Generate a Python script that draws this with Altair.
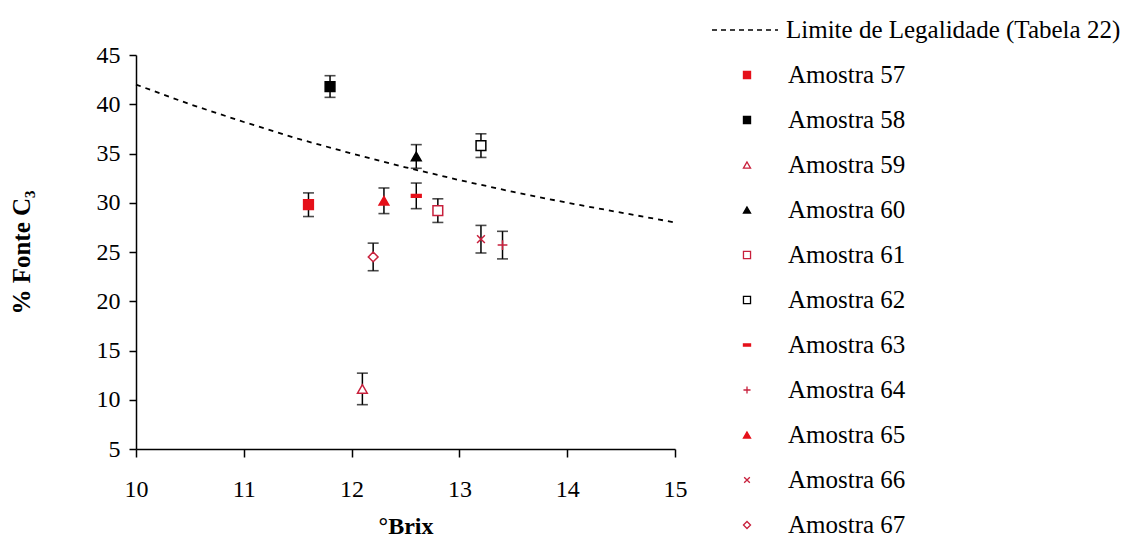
import altair as alt
import pandas as pd

# ---- data ----
samples = ["Amostra 57", "Amostra 58", "Amostra 59", "Amostra 60", "Amostra 61",
           "Amostra 62", "Amostra 63", "Amostra 64", "Amostra 65", "Amostra 66", "Amostra 67"]
brix = [11.6, 11.8, 12.1, 12.6, 12.8, 13.2, 12.6, 13.4, 12.3, 13.2, 12.2]
fonte_c3 = [29.8, 41.8, 11.1, 34.7, 29.2, 35.8, 30.7, 25.7, 30.2, 26.3, 24.5]
erro = [1.2, 1.1, 1.6, 1.2, 1.2, 1.2, 1.3, 1.4, 1.3, 1.4, 1.4]

limite_brix = [10, 10.5, 11, 11.5, 12, 12.5, 13, 13.5, 14, 14.5, 15]
limite_c3 = [42.0, 40.0, 38.2, 36.5, 35.0, 33.6, 32.3, 31.1, 30.0, 29.0, 28.0]
limite_label = "Limite de Legalidade (Tabela 22)"

x_ticks = [10, 11, 12, 13, 14, 15]
y_ticks = [5, 10, 15, 20, 25, 30, 35, 40, 45]

# ---- marker styles ----
RED = "#e5101a"
DRED = "#c8203c"
shapes = ["square", "square", "triangle-up", "triangle-up", "square", "square",
          "M-1,-0.3L1,-0.3L1,0.3L-1,0.3Z", "M-1,0L1,0M0,-1L0,1", "triangle-up",
          "M-0.8,-0.8L0.8,0.8M-0.8,0.8L0.8,-0.8", "diamond"]
fills = [RED, "black", "white", "black", "white", "white", RED, "white", RED, "white", "white"]
strokes = [RED, "black", DRED, "black", DRED, "black", RED, DRED, RED, DRED, DRED]

FONT = "Liberation Serif"

df = pd.DataFrame({"amostra": samples, "brix": brix, "c3": fonte_c3, "erro": erro})
df["lo"] = df["c3"] - df["erro"]
df["hi"] = df["c3"] + df["erro"]
df["row"] = list(range(1, len(samples) + 1))

lim = pd.DataFrame({"brix": limite_brix, "c3": limite_c3})

xs = alt.Scale(domain=[10, 15], nice=False, zero=False)
ys = alt.Scale(domain=[5, 45], nice=False, zero=False)

shape_enc = alt.Shape("amostra:N", scale=alt.Scale(domain=samples, range=shapes), legend=None)
fill_enc = alt.Fill("amostra:N", scale=alt.Scale(domain=samples, range=fills), legend=None)
stroke_enc = alt.Stroke("amostra:N", scale=alt.Scale(domain=samples, range=strokes), legend=None)

x_enc = alt.X("brix:Q", scale=xs,
              axis=alt.Axis(values=x_ticks, title="°Brix", format="d"))
y_enc = alt.Y("c3:Q", scale=ys,
              axis=alt.Axis(values=y_ticks, title="% Fonte C₃", format="d"))

base = alt.Chart(df)

line = alt.Chart(lim).mark_line(color="black", strokeDash=[5, 5], strokeWidth=1.8).encode(
    x=x_enc, y=y_enc)

bars = base.mark_rule(color="black", strokeWidth=1.5).encode(
    x=alt.X("brix:Q", scale=xs), y=alt.Y("lo:Q", scale=ys), y2="hi:Q")
cap_lo = base.mark_tick(orient="horizontal", color="black", size=11, thickness=1.6).encode(
    x=alt.X("brix:Q", scale=xs), y=alt.Y("lo:Q", scale=ys))
cap_hi = base.mark_tick(orient="horizontal", color="black", size=11, thickness=1.6).encode(
    x=alt.X("brix:Q", scale=xs), y=alt.Y("hi:Q", scale=ys))

pts = base.mark_point(size=95, strokeWidth=1.5, opacity=1).encode(
    x=alt.X("brix:Q", scale=xs), y=alt.Y("c3:Q", scale=ys),
    shape=shape_enc, fill=fill_enc, stroke=stroke_enc)

plot = alt.layer(line, bars, cap_lo, cap_hi, pts)

# ---- legend drawn as its own layer (rows on an independent scale) ----
leg_scale = alt.Scale(domain=[0, 11], range=[-25, 470])
leg_y = alt.Y("row:Q", scale=leg_scale, axis=None)

leg_pts = base.mark_point(size=50, strokeWidth=1.3, opacity=1).encode(
    x=alt.value(611), y=leg_y, shape=shape_enc, fill=fill_enc, stroke=stroke_enc)
leg_txt = base.mark_text(align="left", baseline="middle", font=FONT, fontSize=25,
                         color="black").encode(
    x=alt.value(652), y=leg_y, text="amostra:N")

lim_leg = pd.DataFrame({"row": [0], "label": [limite_label]})
leg_line = alt.Chart(lim_leg).mark_rule(color="black", strokeDash=[5, 4], strokeWidth=1.5).encode(
    x=alt.value(576), x2=alt.value(642), y=leg_y)
leg_line_txt = alt.Chart(lim_leg).mark_text(align="left", baseline="middle", font=FONT,
                                            fontSize=25, color="black").encode(
    x=alt.value(650), y=leg_y, text="label:N")

legend = alt.layer(leg_line, leg_line_txt, leg_pts, leg_txt)

chart = alt.layer(plot, legend).resolve_scale(y="independent").properties(
    width=539, height=394,
    autosize=alt.AutoSizeParams(type="none"),
    padding={"left": 128, "top": 47, "right": 460, "bottom": 93},
).configure_view(stroke=None).configure_axis(
    grid=False, domainColor="black", domainWidth=1.5, tickColor="black", tickWidth=1.5,
    labelFont=FONT, labelFontSize=24, labelColor="black", labelFlush=False,
    titleFont=FONT, titleFontSize=25, titleFontWeight="bold", titleColor="black",
).configure_axisX(
    tickSize=8, labelPadding=20, titlePadding=13, titleFontSize=24,
).configure_axisY(
    tickSize=7, labelPadding=9, titlePadding=62,
)

chart.save("out.html", embed_options={"renderer": "svg", "actions": False})
